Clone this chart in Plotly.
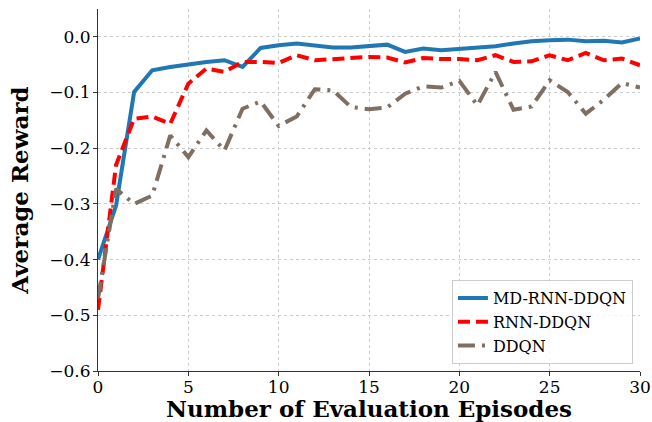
import plotly.graph_objects as go

episodes = list(range(31))
md_rnn_ddqn = [-0.40, -0.303, -0.099, -0.060, -0.054, -0.049, -0.045, -0.042, -0.054, -0.020,
               -0.015, -0.012, -0.015, -0.019, -0.019, -0.017, -0.014, -0.027, -0.021, -0.024,
               -0.022, -0.020, -0.017, -0.012, -0.008, -0.006, -0.005, -0.008, -0.007, -0.010, -0.003]
rnn_ddqn = [-0.49, -0.23, -0.147, -0.143, -0.156, -0.084, -0.057, -0.063, -0.045, -0.045,
            -0.047, -0.033, -0.042, -0.040, -0.039, -0.036, -0.037, -0.046, -0.038, -0.040,
            -0.040, -0.042, -0.033, -0.045, -0.044, -0.033, -0.042, -0.029, -0.042, -0.039, -0.051]
ddqn = [-0.47, -0.273, -0.300, -0.285, -0.177, -0.216, -0.168, -0.204, -0.129, -0.116,
        -0.160, -0.143, -0.094, -0.096, -0.126, -0.130, -0.127, -0.102, -0.089, -0.091,
        -0.079, -0.123, -0.063, -0.131, -0.125, -0.078, -0.099, -0.138, -0.113, -0.083, -0.091]
y_ticks = [0.0, -0.1, -0.2, -0.3, -0.4, -0.5, -0.6]
y_tick_labels = ["0.0", "\u22120.1", "\u22120.2", "\u22120.3", "\u22120.4", "\u22120.5", "\u22120.6"]
x_ticks = [0, 5, 10, 15, 20, 25, 30]

font_family = "DejaVu Serif"

fig = go.Figure()
fig.add_trace(go.Scatter(x=episodes, y=md_rnn_ddqn, mode="lines", name="MD-RNN-DDQN",
                         line=dict(color="#1f77b4", width=4)))
fig.add_trace(go.Scatter(x=episodes, y=rnn_ddqn, mode="lines", name="RNN-DDQN",
                         line=dict(color="#ff0000", width=4, dash="12px,6px")))
fig.add_trace(go.Scatter(x=episodes, y=ddqn, mode="lines", name="DDQN",
                         line=dict(color="#7f6f62", width=4, dash="17px,7px,3px,7px")))

fig.update_layout(
    width=652, height=422,
    margin=dict(l=98, r=12, t=9, b=51),
    paper_bgcolor="white", plot_bgcolor="white",
    font=dict(family=font_family, color="black", size=17),
    showlegend=True,
    legend=dict(x=0.987, y=0.019, xanchor="right", yanchor="bottom",
                bgcolor="rgba(255,255,255,0.8)", bordercolor="#cccccc", borderwidth=1,
                font=dict(family=font_family, size=16), tracegroupgap=0,
                itemwidth=30),
)
fig.update_xaxes(
    range=[0, 30], tickvals=x_ticks, ticks="outside", ticklen=4, tickwidth=1.2, tickcolor="#333",
    showline=True, linecolor="#333", linewidth=1.2, mirror=False, automargin=False,
    ticklabelstandoff=-4, ticklabeloverflow="allow",
    showgrid=True, gridcolor="#cccccc", griddash="dot", gridwidth=1, zeroline=False,
    title=dict(text="<b>Number of Evaluation Episodes</b>", font=dict(size=23, family=font_family), standoff=3),
    tickfont=dict(size=17),
)
fig.update_yaxes(
    range=[-0.6, 0.05], tickvals=y_ticks, ticktext=y_tick_labels, ticks="outside", ticklen=4, tickwidth=1.2,
    tickcolor="#333", ticklabelstandoff=-1, ticklabeloverflow="allow",
    showline=True, linecolor="#333", linewidth=1.2, mirror=False, automargin=False,
    showgrid=True, gridcolor="#cccccc", griddash="dot", gridwidth=1, zeroline=False,
    title=dict(text="<b>Average Reward</b>", font=dict(size=23, family=font_family), standoff=14),
    tickfont=dict(size=17),
)

fig.write_html(
    "out.html",
    config={"displayModeBar": False},
    post_script="document.body.style.margin='0';document.body.style.overflow='hidden';",
)
